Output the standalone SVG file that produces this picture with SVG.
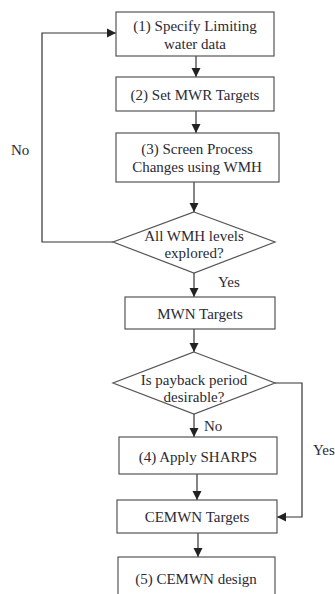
<svg xmlns="http://www.w3.org/2000/svg" width="335" height="594" viewBox="0 0 335 594">
<style>
.box{fill:#fff;stroke:#555;stroke-width:1.2}
.t{font-family:'Liberation Serif','Times New Roman',serif;font-size:15px;fill:#2a2a35;text-anchor:middle}
.l{font-family:'Liberation Serif','Times New Roman',serif;font-size:15px;fill:#2a2a35}
.c{fill:none;stroke:#333;stroke-width:1.2}
</style>
<defs>
<marker id="ah" markerWidth="10" markerHeight="10" refX="9" refY="5" orient="auto" markerUnits="userSpaceOnUse">
<path d="M0,0.5 L9,5 L0,9.5 Z" fill="#222"/>
</marker>
</defs>
<rect width="335" height="594" fill="#fff"/>
<g id="connectors">
<line class="c" x1="196" y1="56" x2="196" y2="77" marker-end="url(#ah)"/>
<line class="c" x1="196" y1="111" x2="196" y2="133" marker-end="url(#ah)"/>
<line class="c" x1="194" y1="182" x2="194" y2="212" marker-end="url(#ah)"/>
<polyline class="c" points="113,242 42,242 42,33 116,33" marker-end="url(#ah)"/>
<line class="c" x1="194" y1="273" x2="194" y2="297" marker-end="url(#ah)"/>
<line class="c" x1="194" y1="329" x2="194" y2="352" marker-end="url(#ah)"/>
<polyline class="c" points="275,383 302,383 302,517 277,517" marker-end="url(#ah)"/>
<line class="c" x1="194" y1="414" x2="194" y2="437" marker-end="url(#ah)"/>
<line class="c" x1="197" y1="474" x2="197" y2="500" marker-end="url(#ah)"/>
<line class="c" x1="198" y1="533" x2="198" y2="557" marker-end="url(#ah)"/>
<text class="l" x="11" y="155">No</text>
<text class="l" x="218" y="287">Yes</text>
<text class="l" x="204" y="431">No</text>
<text class="l" x="313" y="455">Yes</text>
</g>
<g id="n1"><rect class="box" x="116" y="12" width="158" height="44"/><text class="t" x="195" y="31">(1) Specify Limiting</text><text class="t" x="195" y="49">water data</text></g>
<g id="n2"><rect class="box" x="116" y="77" width="158" height="34"/><text class="t" x="195" y="100">(2) Set MWR Targets</text></g>
<g id="n3"><rect class="box" x="116" y="133" width="163" height="49"/><text class="t" x="197" y="154">(3) Screen Process</text><text class="t" x="197" y="172">Changes using WMH</text></g>
<g id="d1"><polygon class="box" points="194,212 275,242 194,273 113,242"/><text class="t" x="194" y="241">All WMH levels</text><text class="t" x="194" y="258">explored?</text></g>
<g id="n4"><rect class="box" x="125" y="297" width="150" height="32"/><text class="t" x="200" y="319">MWN Targets</text></g>
<g id="d2"><polygon class="box" points="194,352 275,383 194,414 113,383"/><text class="t" x="194" y="385">Is payback period</text><text class="t" x="194" y="402">desirable?</text></g>
<g id="n5"><rect class="box" x="119" y="437" width="158" height="37"/><text class="t" x="198" y="462">(4) Apply SHARPS</text></g>
<g id="n6"><rect class="box" x="117" y="500" width="160" height="33"/><text class="t" x="197" y="522">CEMWN Targets</text></g>
<g id="n7"><rect class="box" x="118" y="557" width="157" height="45"/><text class="t" x="196" y="584">(5) CEMWN design</text></g>
</svg>
